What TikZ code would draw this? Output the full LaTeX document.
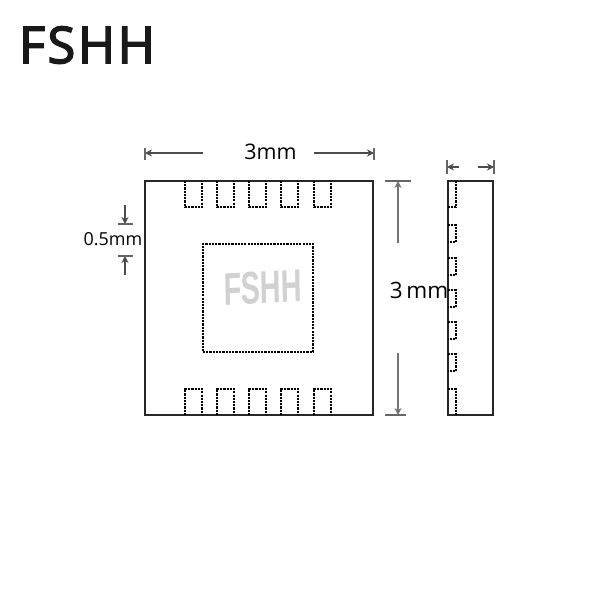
\documentclass[tikz,border=0pt]{standalone}
\usepackage{fontspec}
\setmainfont{Open Sans}
\newfontfamily\markfont{Liberation Sans}
\newfontfamily\brandfont[FakeBold=3,LetterSpace=5]{Open Sans}
\usetikzlibrary{arrows.meta, positioning}

\begin{document}
\begin{tikzpicture}[
            x = 0.01cm,
            y = -0.01cm,
            > = Stealth,
            semithick
        ]

        \tikzstyle{outline}=[
            draw = black!85,
            line width = 0.55pt,
            inner sep = 0pt
        ]
        \tikzstyle{hidden}=[
            draw = black,
            line width = 0.75pt,
            dash pattern = on 0.62pt off 0.3pt
        ]
        \tikzstyle{dim}=[
            -{Stealth[length=2pt,width=2pt]},
            draw = black!70,
            line width = 0.3pt
        ]
        \tikzstyle{dimgrey}=[
            dim,
            draw = black!55
        ]
        \tikzstyle{tick}=[
            draw = black!60,
            line width = 0.3pt
        ]
        \tikzstyle{dimlabel}=[
            font = \fontsize{6.1}{7}\selectfont,
            text = black,
            inner sep = 0pt
        ]

        \useasboundingbox[fill=white] (0,0) rectangle (600,600);

        \node[font=\brandfont\fontsize{14.4}{16}\selectfont,text=black!90,inner sep=0pt] (brand) at (87,45) {FSHH};

        \node[outline, minimum width=2.28cm, minimum height=2.34cm] (body) at (259,298) {};
        \node[hidden, minimum width=1.10cm, minimum height=1.08cm, inner sep=0pt] (epad) at (258,298) {};
        \node[font=\markfont\bfseries\fontsize{13}{15}\selectfont, text=black!18, inner sep=0pt, xscale=0.63, rotate=2] (mark) at (263,288) {FSHH};
        \node[outline, minimum width=0.45cm, minimum height=2.34cm] (side) [right=0.73cm of body] {};

        % pads on both long edges
        \foreach \px in {185,217,249,281,314} {
            \draw[hidden] (\px,181) -- (\px,207) -- (\px+17,207) -- (\px+17,181);
            \draw[hidden] (\px,415) -- (\px,389) -- (\px+17,389) -- (\px+17,415);
        }
        % pads seen from the side
        \foreach \py in {225,258,290,322,354} {
            \draw[hidden] (448,\py) -- (456,\py) -- (456,\py+17) -- (448,\py+17);
        }
        \draw[hidden] (456,181) -- (456,207) -- (448,207);
        \draw[hidden] (448,389) -- (456,389) -- (456,415);

        % width
        \node[dimlabel] (wlabel) at (270.5,152) {3mm};
        \coordinate (wl) at (203,153);
        \coordinate (wle) at (145,153);
        \coordinate (wr) at (314,153);
        \coordinate (wre) at (374,153);
        \draw[dim] (wl) -- (wle);
        \draw[dim] (wr) -- (wre);
        \draw[tick] (145,148) -- (145,160);
        \draw[tick] (374,148) -- (374,160);

        % height
        \node[dimlabel, font=\fontsize{6.4}{7}\selectfont] (hlabel) at (419,290) {3\,mm};
        \coordinate (ht) at (398,243);
        \coordinate (hte) at (398,181);
        \coordinate (hb) at (398,353);
        \coordinate (hbe) at (398,415);
        \draw[dimgrey] (ht) -- (hte);
        \draw[dimgrey] (hb) -- (hbe);
        \draw[tick] (385,181) -- (411,181);
        \draw[tick] (385,415) -- (406,415);

        % thickness
        \coordinate (tl) at (459,167);
        \coordinate (tle) at (447,167);
        \coordinate (tr) at (478,167);
        \coordinate (tre) at (494,167);
        \draw[dim] (tl) -- (tle);
        \draw[dim] (tr) -- (tre);
        \draw[tick] (447,160) -- (447,174);
        \draw[tick] (494,160) -- (494,174);

        % pitch
        \node[dimlabel, font=\fontsize{5.1}{6}\selectfont] (plabel) at (113,239) {0.5mm};
        \coordinate (pt) at (125,205);
        \coordinate (pte) at (125,224);
        \coordinate (pb) at (125,275);
        \coordinate (pbe) at (125,256);
        \draw[dim] (pt) -- (pte);
        \draw[dim] (pb) -- (pbe);
        \draw[tick] (118,224) -- (133,224);
        \draw[tick] (118,256) -- (133,256);

    \end{tikzpicture}
\end{document}
